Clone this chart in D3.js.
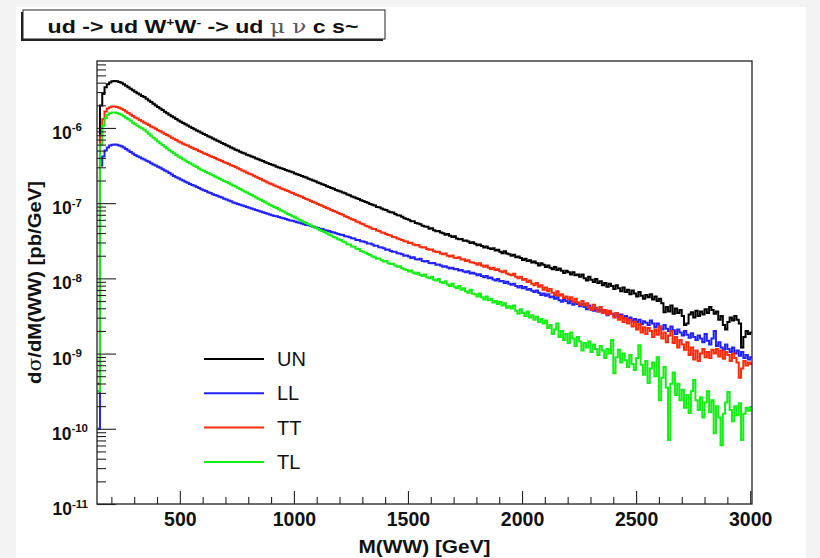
<!DOCTYPE html>
<html>
<head>
<meta charset="utf-8">
<script src="https://cdn.jsdelivr.net/npm/d3@7/dist/d3.min.js"></script>
<style>
  body { margin: 0; background: #f3f3f3; }
  svg { display: block; font-family: "Liberation Sans", Arial, Helvetica, sans-serif; }
</style>
</head>
<body>
<svg id="chart" width="820" height="558"></svg>
<script>
// histogram binning: 10 GeV bins starting at 140 GeV
const binStart = 140;
const binWidth = 10;

// log10(dsigma/dM [pb/GeV]) per bin
const unExp = [
  -9.40, -5.70, -5.55, -5.46, -5.42, -5.395, -5.38, -5.375, -5.38, -5.39,
  -5.40, -5.42, -5.44, -5.46, -5.48, -5.50, -5.52, -5.54, -5.555, -5.575,
  -5.59, -5.612, -5.634, -5.656, -5.678, -5.70, -5.721, -5.742, -5.763, -5.784,
  -5.805, -5.824, -5.843, -5.862, -5.881, -5.90, -5.917, -5.934, -5.951, -5.968,
  -5.985, -6.001, -6.017, -6.033, -6.049, -6.065, -6.08, -6.095, -6.11, -6.125,
  -6.14, -6.155, -6.17, -6.185, -6.20, -6.215, -6.23, -6.245, -6.26, -6.275,
  -6.29, -6.30, -6.315, -6.33, -6.34, -6.355, -6.365, -6.38, -6.39, -6.405,
  -6.415, -6.43, -6.44, -6.455, -6.465, -6.48, -6.49, -6.50, -6.515, -6.525,
  -6.535, -6.545, -6.56, -6.57, -6.58, -6.59, -6.605, -6.615, -6.625, -6.64,
  -6.65, -6.66, -6.675, -6.685, -6.70, -6.71, -6.725, -6.735, -6.75, -6.76,
  -6.775, -6.785, -6.80, -6.81, -6.825, -6.835, -6.845, -6.86, -6.87, -6.885,
  -6.895, -6.91, -6.92, -6.935, -6.945, -6.96, -6.97, -6.985, -6.995, -7.01,
  -7.02, -7.03, -7.05, -7.055, -7.07, -7.085, -7.09, -7.11, -7.12, -7.125,
  -7.145, -7.16, -7.165, -7.18, -7.20, -7.21, -7.22, -7.24, -7.24, -7.265,
  -7.27, -7.28, -7.30, -7.31, -7.315, -7.34, -7.335, -7.36, -7.375, -7.37,
  -7.39, -7.40, -7.42, -7.41, -7.435, -7.45, -7.44, -7.47, -7.48, -7.475,
  -7.50, -7.495, -7.51, -7.53, -7.52, -7.54, -7.56, -7.55, -7.57, -7.59,
  -7.575, -7.60, -7.61, -7.60, -7.63, -7.62, -7.645, -7.665, -7.64, -7.67,
  -7.68, -7.70, -7.685, -7.72, -7.71, -7.73, -7.755, -7.74, -7.77, -7.76,
  -7.79, -7.775, -7.80, -7.83, -7.80, -7.82, -7.85, -7.83, -7.86, -7.88,
  -7.85, -7.89, -7.87, -7.90, -7.93, -7.90, -7.92, -7.95, -7.92, -7.96,
  -7.95, -7.98, -7.95, -8.00, -8.03, -7.98, -8.02, -8.05, -8.01, -8.06,
  -8.04, -8.09, -8.06, -8.11, -8.07, -8.10, -8.14, -8.09, -8.13, -8.17,
  -8.12, -8.18, -8.15, -8.21, -8.16, -8.20, -8.24, -8.18, -8.23, -8.27,
  -8.22, -8.25, -8.21, -8.28, -8.24, -8.30, -8.27, -8.33, -8.45, -8.38,
  -8.44, -8.36, -8.47, -8.40, -8.46, -8.42, -8.50, -8.62, -8.60, -8.48,
  -8.45, -8.52, -8.43, -8.50, -8.44, -8.48, -8.41, -8.46, -8.38, -8.42,
  -8.47, -8.44, -8.55, -8.50, -8.62, -8.68, -8.58, -8.52, -8.56, -8.50,
  -8.55, -8.60, -8.92, -8.78, -8.70, -8.74, -8.72
];
const llExp = [
  -10.00, -6.50, -6.38, -6.30, -6.26, -6.235, -6.225, -6.22, -6.225, -6.235,
  -6.245, -6.26, -6.28, -6.30, -6.32, -6.34, -6.36, -6.375, -6.39, -6.405,
  -6.42, -6.435, -6.45, -6.47, -6.485, -6.50, -6.515, -6.53, -6.55, -6.565,
  -6.58, -6.60, -6.62, -6.64, -6.655, -6.67, -6.685, -6.70, -6.715, -6.73,
  -6.745, -6.76, -6.77, -6.785, -6.80, -6.815, -6.83, -6.84, -6.855, -6.865,
  -6.88, -6.89, -6.90, -6.915, -6.925, -6.94, -6.95, -6.965, -6.975, -6.99,
  -7.00, -7.01, -7.02, -7.03, -7.04, -7.05, -7.06, -7.07, -7.08, -7.09,
  -7.10, -7.11, -7.12, -7.13, -7.14, -7.15, -7.16, -7.17, -7.175, -7.185,
  -7.195, -7.20, -7.21, -7.22, -7.23, -7.235, -7.245, -7.255, -7.26, -7.27,
  -7.28, -7.29, -7.295, -7.305, -7.315, -7.32, -7.33, -7.34, -7.345, -7.36,
  -7.365, -7.37, -7.385, -7.39, -7.40, -7.41, -7.42, -7.425, -7.44, -7.445,
  -7.455, -7.465, -7.47, -7.49, -7.49, -7.505, -7.51, -7.52, -7.535, -7.535,
  -7.55, -7.565, -7.565, -7.585, -7.59, -7.60, -7.62, -7.615, -7.635, -7.645,
  -7.645, -7.665, -7.67, -7.68, -7.70, -7.695, -7.71, -7.73, -7.72, -7.745,
  -7.75, -7.74, -7.77, -7.775, -7.77, -7.795, -7.80, -7.795, -7.82, -7.815,
  -7.83, -7.845, -7.84, -7.855, -7.87, -7.86, -7.88, -7.875, -7.895, -7.89,
  -7.91, -7.92, -7.905, -7.935, -7.925, -7.94, -7.96, -7.945, -7.97, -7.985,
  -7.97, -8.00, -7.99, -8.015, -8.03, -8.01, -8.04, -8.035, -8.06, -8.045,
  -8.07, -8.085, -8.07, -8.10, -8.12, -8.10, -8.13, -8.115, -8.15, -8.14,
  -8.165, -8.18, -8.16, -8.19, -8.22, -8.20, -8.23, -8.21, -8.25, -8.24,
  -8.27, -8.25, -8.29, -8.31, -8.28, -8.30, -8.33, -8.30, -8.35, -8.32,
  -8.34, -8.37, -8.34, -8.38, -8.41, -8.36, -8.40, -8.43, -8.39, -8.44,
  -8.42, -8.46, -8.43, -8.49, -8.45, -8.47, -8.50, -8.46, -8.51, -8.48,
  -8.53, -8.50, -8.55, -8.52, -8.57, -8.54, -8.58, -8.55, -8.61, -8.57,
  -8.59, -8.62, -8.56, -8.60, -8.65, -8.60, -8.64, -8.68, -8.62, -8.67,
  -8.70, -8.64, -8.69, -8.74, -8.68, -8.72, -8.76, -8.70, -8.75, -8.79,
  -8.73, -8.78, -8.82, -8.76, -8.80, -8.85, -8.74, -8.83, -8.88, -8.80,
  -8.70, -8.90, -8.85, -8.92, -8.95, -8.88, -8.94, -8.98, -8.92, -9.00,
  -8.96, -9.03, -8.98, -9.06, -9.02, -9.08, -9.05
];
const ttExp = [
  -9.50, -6.10, -5.88, -5.78, -5.74, -5.725, -5.715, -5.715, -5.72, -5.73,
  -5.745, -5.76, -5.78, -5.80, -5.82, -5.84, -5.86, -5.875, -5.895, -5.91,
  -5.93, -5.945, -5.96, -5.98, -5.995, -6.01, -6.03, -6.045, -6.06, -6.08,
  -6.095, -6.11, -6.13, -6.145, -6.16, -6.18, -6.195, -6.21, -6.225, -6.235,
  -6.25, -6.265, -6.28, -6.29, -6.305, -6.32, -6.335, -6.345, -6.36, -6.375,
  -6.385, -6.40, -6.415, -6.425, -6.44, -6.455, -6.465, -6.48, -6.495, -6.505,
  -6.52, -6.535, -6.55, -6.565, -6.58, -6.595, -6.61, -6.62, -6.635, -6.65,
  -6.665, -6.68, -6.695, -6.71, -6.725, -6.74, -6.75, -6.765, -6.78, -6.79,
  -6.805, -6.815, -6.83, -6.84, -6.855, -6.865, -6.88, -6.89, -6.905, -6.915,
  -6.93, -6.945, -6.955, -6.97, -6.985, -6.995, -7.01, -7.025, -7.035, -7.05,
  -7.065, -7.075, -7.09, -7.105, -7.115, -7.13, -7.145, -7.155, -7.175, -7.185,
  -7.20, -7.215, -7.225, -7.245, -7.255, -7.27, -7.28, -7.30, -7.31, -7.325,
  -7.34, -7.345, -7.365, -7.37, -7.39, -7.395, -7.41, -7.425, -7.43, -7.45,
  -7.455, -7.47, -7.48, -7.49, -7.505, -7.51, -7.53, -7.525, -7.55, -7.56,
  -7.555, -7.58, -7.59, -7.585, -7.61, -7.62, -7.615, -7.64, -7.65, -7.645,
  -7.67, -7.68, -7.67, -7.70, -7.71, -7.695, -7.725, -7.73, -7.72, -7.75,
  -7.745, -7.77, -7.76, -7.785, -7.79, -7.80, -7.82, -7.80, -7.83, -7.845,
  -7.83, -7.86, -7.875, -7.86, -7.89, -7.88, -7.905, -7.92, -7.90, -7.935,
  -7.95, -7.96, -7.94, -7.98, -8.00, -7.98, -8.02, -8.01, -8.05, -8.03,
  -8.07, -8.09, -8.06, -8.11, -8.09, -8.15, -8.12, -8.17, -8.14, -8.19,
  -8.22, -8.17, -8.23, -8.21, -8.26, -8.24, -8.28, -8.25, -8.31, -8.27,
  -8.32, -8.35, -8.30, -8.36, -8.33, -8.39, -8.42, -8.35, -8.40, -8.44,
  -8.38, -8.46, -8.42, -8.48, -8.43, -8.47, -8.52, -8.46, -8.55, -8.50,
  -8.58, -8.53, -8.60, -8.55, -8.64, -8.58, -8.68, -8.61, -8.72, -8.65,
  -8.74, -8.66, -8.70, -8.78, -8.68, -8.75, -8.64, -8.80, -8.72, -8.85,
  -8.76, -8.70, -8.86, -8.78, -8.92, -8.82, -8.88, -8.95, -8.85, -9.02,
  -8.92, -9.08, -8.96, -9.10, -9.00, -8.94, -9.05, -8.98, -9.06, -8.95,
  -9.00, -8.94, -9.04, -8.96, -9.07, -8.98, -9.02, -9.10, -9.00, -9.06,
  -9.12, -9.32, -9.20, -9.10, -9.16, -9.12, -9.14
];
const tlExp = [
  -9.50, -6.22, -5.97, -5.87, -5.825, -5.805, -5.795, -5.795, -5.80, -5.81,
  -5.825, -5.845, -5.865, -5.885, -5.905, -5.93, -5.95, -5.97, -5.99, -6.005,
  -6.025, -6.051, -6.077, -6.103, -6.129, -6.155, -6.179, -6.203, -6.227, -6.251,
  -6.275, -6.296, -6.317, -6.338, -6.359, -6.38, -6.398, -6.416, -6.434, -6.452,
  -6.47, -6.487, -6.504, -6.521, -6.538, -6.555, -6.57, -6.585, -6.60, -6.615,
  -6.63, -6.645, -6.66, -6.675, -6.69, -6.705, -6.72, -6.735, -6.75, -6.765,
  -6.78, -6.796, -6.812, -6.828, -6.844, -6.86, -6.876, -6.892, -6.908, -6.924,
  -6.94, -6.956, -6.972, -6.988, -7.004, -7.02, -7.035, -7.05, -7.066, -7.081,
  -7.097, -7.112, -7.128, -7.143, -7.158, -7.174, -7.189, -7.204, -7.22, -7.235,
  -7.25, -7.265, -7.28, -7.297, -7.31, -7.327, -7.34, -7.358, -7.37, -7.388,
  -7.40, -7.418, -7.43, -7.45, -7.46, -7.48, -7.49, -7.51, -7.52, -7.545,
  -7.55, -7.575, -7.58, -7.605, -7.61, -7.635, -7.645, -7.66, -7.675, -7.69,
  -7.71, -7.72, -7.74, -7.735, -7.76, -7.775, -7.77, -7.80, -7.81, -7.805,
  -7.83, -7.845, -7.84, -7.865, -7.88, -7.89, -7.91, -7.895, -7.925, -7.94,
  -7.925, -7.955, -7.97, -7.95, -7.985, -8.00, -7.98, -8.02, -8.03, -8.01,
  -8.05, -8.06, -8.04, -8.08, -8.10, -8.07, -8.11, -8.13, -8.10, -8.15,
  -8.13, -8.17, -8.19, -8.15, -8.20, -8.21, -8.24, -8.20, -8.25, -8.28,
  -8.24, -8.29, -8.27, -8.32, -8.30, -8.34, -8.31, -8.36, -8.33, -8.39,
  -8.37, -8.40, -8.36, -8.43, -8.47, -8.41, -8.46, -8.50, -8.44, -8.52,
  -8.49, -8.55, -8.51, -8.58, -8.54, -8.60, -8.56, -8.66, -8.62, -8.74,
  -8.68, -8.60, -8.78, -8.70, -8.82, -8.74, -8.86, -8.72, -8.80, -8.90,
  -8.78, -8.84, -8.96, -8.86, -8.92, -8.84, -8.98, -8.88, -8.94, -9.02,
  -8.90, -8.96, -9.06, -8.94, -9.00, -8.82, -9.26, -9.05, -8.95, -9.12,
  -9.00, -9.09, -9.18, -9.02, -9.14, -9.22, -9.06, -8.89, -9.15, -9.28,
  -9.10, -9.39, -9.20, -9.12, -9.30, -9.05, -9.62, -9.32, -9.18, -9.45,
  -10.15, -9.40, -9.25, -9.55, -9.40, -9.62, -9.48, -9.72, -9.55, -9.79,
  -9.50, -9.35, -9.62, -9.75, -9.58, -9.85, -9.65, -9.50, -9.78, -9.62,
  -10.06, -9.70, -9.85, -10.22, -9.80, -9.65, -9.51, -9.75, -9.90, -9.70,
  -9.82, -9.66, -10.15, -9.80, -9.72, -9.76, -9.71
];

const seriesNames = ["UN", "LL", "TT", "TL"];
const seriesColors = ["#000000", "#2222ff", "#ff2a0a", "#14ee14"];
const seriesValues = [unExp, llExp, ttExp, tlExp].map(arr => arr.map(e => Math.pow(10, e)));

const xMajorTicks = [500, 1000, 1500, 2000, 2500, 3000];
const yDecades = [-11, -10, -9, -8, -7, -6];

const svg = d3.select("#chart");
const frame = { left: 97, right: 752, top: 61, bottom: 504 };

// white canvas (ROOT pad) on grey page
svg.append("rect").attr("x", 16).attr("y", 7).attr("width", 790).attr("height", 551).attr("fill", "#fff");

const x = d3.scaleLinear().domain([137, 3008]).range([frame.left, frame.right]);
const y = d3.scaleLog().domain([1e-11, Math.pow(10, -5.11)]).range([frame.bottom, frame.top]);

svg.append("defs").append("clipPath").attr("id", "plot-clip")
  .append("rect")
  .attr("x", frame.left).attr("y", frame.top)
  .attr("width", frame.right - frame.left).attr("height", frame.bottom - frame.top);

// histograms drawn as step outlines
const line = d3.line()
  .x(d => x(d[0]))
  .y(d => y(d[1]))
  .curve(d3.curveStepAfter);

const plot = svg.append("g").attr("clip-path", "url(#plot-clip)");
seriesValues.forEach((vals, k) => {
  const pts = vals.map((v, i) => [binStart + i * binWidth, v]);
  pts.push([binStart + vals.length * binWidth, vals[vals.length - 1]]);
  plot.append("path")
    .attr("d", line(pts))
    .attr("fill", "none")
    .attr("stroke", seriesColors[k])
    .attr("stroke-width", 2);
});

// frame
svg.append("rect")
  .attr("x", frame.left).attr("y", frame.top)
  .attr("width", frame.right - frame.left).attr("height", frame.bottom - frame.top)
  .attr("fill", "none").attr("stroke", "#222").attr("stroke-width", 1.3);

// x axis ticks (inside the frame)
const xMinor = d3.range(200, 3001, 100).filter(v => v % 500 !== 0);
svg.append("g")
  .attr("transform", `translate(0,${frame.bottom})`)
  .call(d3.axisBottom(x).tickValues(xMinor).tickSize(-7).tickFormat(""))
  .call(g => g.select(".domain").remove());
const xAxis = svg.append("g")
  .attr("transform", `translate(0,${frame.bottom})`)
  .call(d3.axisBottom(x).tickValues(xMajorTicks).tickSize(-13).tickPadding(8).tickFormat(d3.format("d")))
  .call(g => g.select(".domain").remove());
xAxis.selectAll("text")
  .attr("font-size", 19.5).attr("font-weight", "bold").attr("fill", "#111")
  .attr("font-family", "Liberation Sans, Arial, sans-serif");
svg.selectAll(".tick line").attr("stroke", "#222").attr("stroke-width", 1.1);

// y axis ticks (log: decades + 2..9 minors)
const yMinor = [];
yDecades.forEach(d => {
  for (let k = 2; k <= 9; k++) {
    const v = k * Math.pow(10, d);
    if (v <= y.domain()[1]) yMinor.push(v);
  }
});
svg.append("g")
  .attr("transform", `translate(${frame.left},0)`)
  .call(d3.axisLeft(y).tickValues(yMinor).tickSize(-9).tickFormat(""))
  .call(g => g.select(".domain").remove())
  .selectAll("line").attr("stroke", "#222").attr("stroke-width", 1.1);
svg.append("g")
  .attr("transform", `translate(${frame.left},0)`)
  .call(d3.axisLeft(y).tickValues(yDecades.map(d => Math.pow(10, d))).tickSize(-19).tickFormat(""))
  .call(g => g.select(".domain").remove())
  .selectAll("line").attr("stroke", "#222").attr("stroke-width", 1.1);

// y labels 10^n
yDecades.forEach(d => {
  const t = svg.append("text")
    .attr("x", d <= -10 ? 88 : 82)
    .attr("y", y(Math.pow(10, d)) + 11)
    .attr("text-anchor", "end")
    .attr("font-weight", "bold")
    .attr("fill", "#111");
  t.append("tspan").attr("font-size", 17.5).text("10");
  t.append("tspan").attr("font-size", 11.5).attr("dy", -7.5).text(`-${-d}`);
});

// axis titles
svg.append("text")
  .attr("x", (frame.left + frame.right) / 2)
  .attr("y", 553)
  .attr("text-anchor", "middle")
  .attr("font-size", 18.5).attr("font-weight", "bold").attr("fill", "#111")
  .attr("textLength", 132).attr("lengthAdjust", "spacingAndGlyphs")
  .text("M(WW)  [GeV]");

const yTitle = svg.append("text")
  .attr("transform", `translate(41,${(frame.top + frame.bottom) / 2}) rotate(-90)`)
  .attr("text-anchor", "middle")
  .attr("font-size", 18.5).attr("font-weight", "bold").attr("fill", "#111")
  .attr("textLength", 203).attr("lengthAdjust", "spacingAndGlyphs");
yTitle.append("tspan").text("d");
yTitle.append("tspan").attr("font-weight", "normal").attr("font-family", "DejaVu Serif, serif").text("σ");
yTitle.append("tspan").text("/dM(WW)  [pb/GeV]");

// legend
const legend = svg.append("g").attr("transform", "translate(204,359)");
seriesNames.forEach((name, k) => {
  const gy = k * 34.3;
  legend.append("line")
    .attr("x1", 0).attr("x2", 60).attr("y1", gy).attr("y2", gy)
    .attr("stroke", seriesColors[k]).attr("stroke-width", 2);
  legend.append("text")
    .attr("x", 73).attr("y", gy + 7)
    .attr("font-size", 20).attr("fill", "#111")
    .text(name);
});

// title box with shadow
const box = { x: 23, y: 10, w: 362, h: 29 };
svg.append("rect").attr("x", box.x - 2).attr("y", box.y + 2).attr("width", box.w).attr("height", box.h).attr("fill", "#222");
svg.append("rect").attr("x", box.x).attr("y", box.y).attr("width", box.w).attr("height", box.h)
  .attr("fill", "#fff").attr("stroke", "#222").attr("stroke-width", 1);
const title = svg.append("text")
  .attr("x", box.x + box.w / 2 - 1).attr("y", 33)
  .attr("text-anchor", "middle")
  .attr("font-size", 18).attr("font-weight", "bold").attr("fill", "#111")
  .attr("textLength", 311).attr("lengthAdjust", "spacingAndGlyphs");
title.append("tspan").text("ud -> ud W");
title.append("tspan").attr("font-size", 11).attr("dy", -7).text("+");
title.append("tspan").attr("dy", 7).text("W");
title.append("tspan").attr("font-size", 11).attr("dy", -7).text("-");
title.append("tspan").attr("dy", 7).text(" -> ud ");
title.append("tspan").attr("font-weight", "normal").attr("font-family", "DejaVu Serif, serif").attr("fill", "#555").text("μ ν");
title.append("tspan").text(" c s~");
</script>
</body>
</html>
